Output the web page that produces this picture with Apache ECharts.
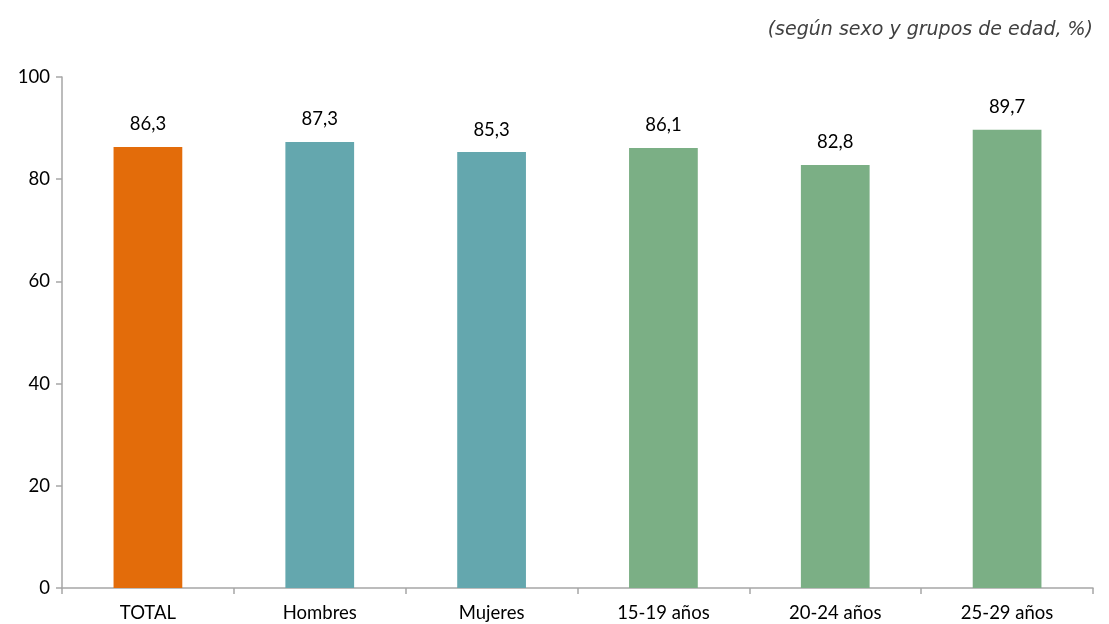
<!DOCTYPE html>
<html>
<head>
<meta charset="utf-8">
<script src="https://cdn.jsdelivr.net/npm/echarts@6/dist/echarts.min.js"></script>
<style>html,body{margin:0;padding:0;background:#fff}#c{width:1109px;height:624px}</style>
</head>
<body>
<div id="c"></div>
<script>
const categories = ["TOTAL", "Hombres", "Mujeres", "15-19 años", "20-24 años", "25-29 años"];
const values = [86.3, 87.3, 85.3, 86.1, 82.8, 89.7];
const barColors = ["#E36C0A", "#64A7AE", "#64A7AE", "#7BAF85", "#7BAF85", "#7BAF85"];
const subtitle = "(según sexo y grupos de edad, %)";

const chart = echarts.init(document.getElementById('c'));
chart.setOption({
  animation: false,
  textStyle: { fontFamily: "Lato, 'Noto Sans', sans-serif" },
  title: {
    text: subtitle,
    right: 11, top: 16,
    textStyle: { fontFamily: "'DejaVu Sans', sans-serif", fontStyle: 'italic', fontWeight: 'normal', fontSize: 19, color: '#404040' }
  },
  grid: { left: 62, right: 16, top: 77, bottom: 36 },
  xAxis: {
    type: 'category',
    data: categories,
    axisLine: { lineStyle: { color: '#a6a6a6', width: 1.5 } },
    axisTick: { show: true, length: 6, alignWithLabel: false, lineStyle: { color: '#a6a6a6', width: 1.5 } },
    axisLabel: { color: '#000', fontSize: 18.5, margin: 16 }
  },
  yAxis: {
    type: 'value', min: 0, max: 100, interval: 20,
    axisLine: { show: true, lineStyle: { color: '#a6a6a6', width: 1.5 } },
    axisTick: { show: true, length: 6, lineStyle: { color: '#a6a6a6', width: 1.5 } },
    splitLine: { show: false },
    axisLabel: { color: '#000', fontSize: 18.5, margin: 12 }
  },
  series: [{
    type: 'bar',
    data: values.map((v, i) => ({ value: v, itemStyle: { color: barColors[i] } })),
    barWidth: '40%',
    label: {
      show: true, position: 'top', distance: 13, color: '#000', fontSize: 18.5,
      formatter: p => String(p.value.toFixed(1)).replace('.', ',')
    }
  }]
});
</script>
</body>
</html>
